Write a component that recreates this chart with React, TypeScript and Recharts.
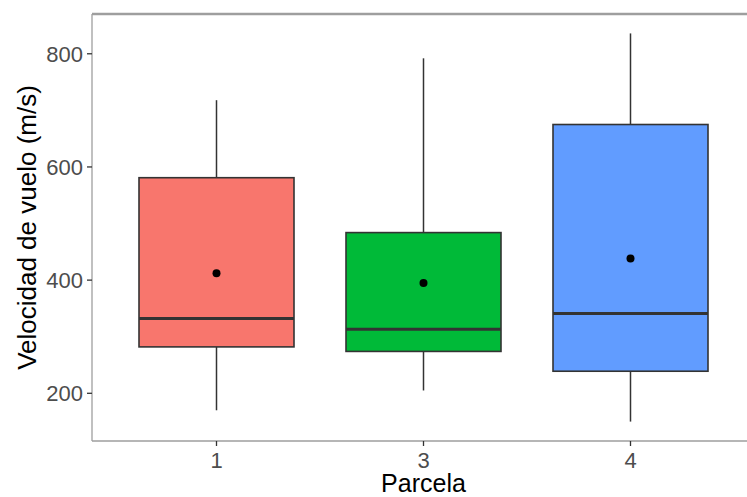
import React from "react";
import {
  ComposedChart, Bar, Scatter, XAxis, YAxis, ReferenceLine, Cell,
} from "recharts";

const parcelas = ["1", "3", "4"];
const minimos = [170, 205, 150];
const q1s = [282, 274, 239];
const medianas = [332, 313, 341];
const q3s = [581, 484, 675];
const maximos = [718, 792, 836];
const medias = [412, 395, 438];
const colores = ["#F8766D", "#00BA38", "#619CFF"];
const yTicks = [200, 400, 600, 800];

const data = parcelas.map((p, i) => ({
  parcela: p,
  rango: [minimos[i], maximos[i]],
  min: minimos[i],
  q1: q1s[i],
  mediana: medianas[i],
  q3: q3s[i],
  max: maximos[i],
  media: medias[i],
}));

// ggplot-style 5% expansion
const lo = Math.min(...minimos);
const hi = Math.max(...maximos);
const pad = (hi - lo) * 0.05;
const yDomain = [lo - pad, hi + pad];

const BORDER = "#9e9e9e";
const INK = "#333333";
const FONT = "'Liberation Sans', Arial, sans-serif";

const BoxShape = (props: any) => {
  const { x, y, width, height, payload, fill } = props;
  const { min, q1, mediana, q3, max } = payload;
  const py = (v: number) => y + (height * (max - v)) / (max - min);
  const cx = x + width / 2;
  return (
    <g>
      <line x1={cx} x2={cx} y1={py(max)} y2={py(q3)} stroke={INK} strokeWidth={1.5} />
      <line x1={cx} x2={cx} y1={py(q1)} y2={py(min)} stroke={INK} strokeWidth={1.5} />
      <rect
        x={x}
        y={py(q3)}
        width={width}
        height={py(q1) - py(q3)}
        fill={fill}
        stroke={INK}
        strokeWidth={1.6}
      />
      <line x1={x} x2={x + width} y1={py(mediana)} y2={py(mediana)} stroke={INK} strokeWidth={3} />
    </g>
  );
};

const XTitle = ({ viewBox }: any) => (
  <text
    x={viewBox.x + viewBox.width / 2}
    y={492}
    textAnchor="middle"
    fill="#000"
    fontSize={25}
    fontFamily={FONT}
  >
    Parcela
  </text>
);

const YTitle = ({ viewBox }: any) => {
  const cy = viewBox.y + viewBox.height / 2;
  return (
    <text
      x={36}
      y={cy}
      transform={`rotate(-90, 36, ${cy})`}
      textAnchor="middle"
      fill="#000"
      fontSize={26}
      fontFamily={FONT}
    >
      Velocidad de vuelo (m/s)
    </text>
  );
};

export default function App() {
  return (
    <div style={{ position: "absolute", left: 0, top: 0, width: 747, height: 497, overflow: "hidden", background: "#fff" }}>
      <ComposedChart
        width={760}
        height={497}
        data={data}
        margin={{ top: 14, right: 5, left: 0, bottom: 0 }}
        style={{ fontFamily: FONT }}
      >
        <XAxis
          dataKey="parcela"
          padding={{ left: 21, right: 21 }}
          height={56}
          axisLine={{ stroke: BORDER, strokeWidth: 1.3 }}
          tickLine={{ stroke: "#333", strokeWidth: 1.3 }}
          tickSize={5}
          tickMargin={6}
          tick={{ fill: "#4d4d4d", fontSize: 22 }}
          label={<XTitle />}
        />
        <YAxis
          type="number"
          domain={yDomain}
          ticks={yTicks}
          width={92}
          axisLine={{ stroke: BORDER, strokeWidth: 1.3 }}
          tickLine={{ stroke: "#333", strokeWidth: 1.3 }}
          tickSize={5}
          tickMargin={4}
          tick={{ fill: "#4d4d4d", fontSize: 22 }}
          allowDataOverflow
          label={<YTitle />}
        />
        <ReferenceLine y={yDomain[1]} stroke={BORDER} strokeWidth={2.5} ifOverflow="extendDomain" />
        <Bar dataKey="rango" barSize={155} shape={<BoxShape />} isAnimationActive={false}>
          {data.map((d, i) => (
            <Cell key={d.parcela} fill={colores[i]} />
          ))}
        </Bar>
        <Scatter
          dataKey="media"
          fill="#000"
          isAnimationActive={false}
          shape={(p: any) => <circle cx={p.cx} cy={p.cy} r={4} fill="#000" />}
        />
      </ComposedChart>
    </div>
  );
}
